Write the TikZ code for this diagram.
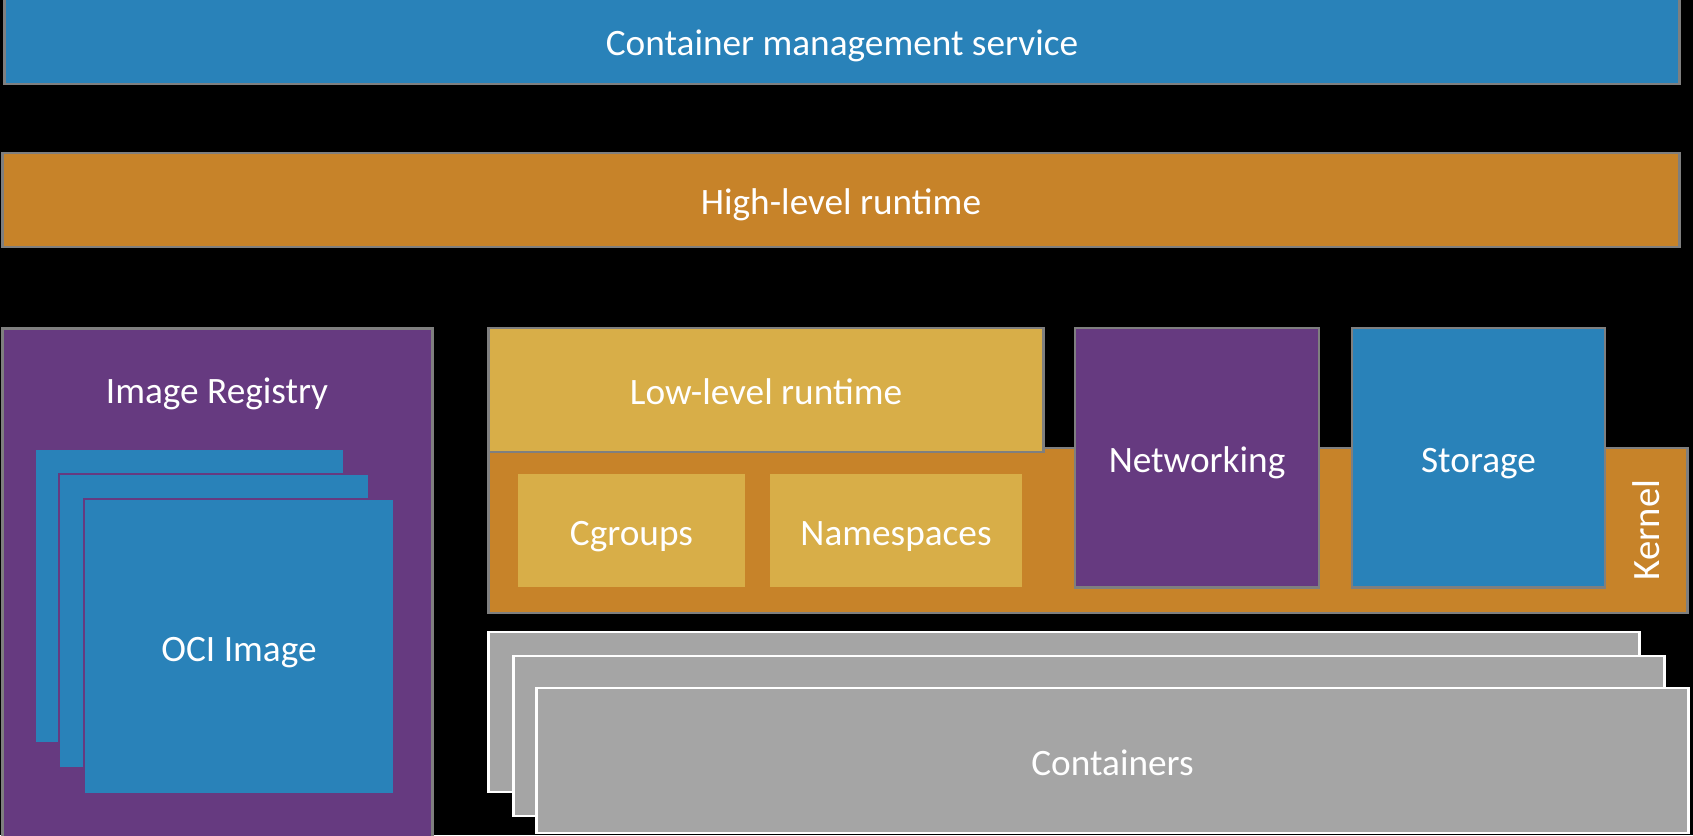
\documentclass[tikz,border=0pt]{standalone}
\usepackage{fontspec}
\setmainfont{Carlito}
\usepackage{tikz}
\usetikzlibrary{positioning}

\definecolor{azul}{RGB}{41,130,185}
\definecolor{naranja}{RGB}{199,131,41}
\definecolor{oro}{RGB}{216,174,72}
\definecolor{morado}{RGB}{102,58,128}
\definecolor{gris}{RGB}{165,165,165}
\definecolor{borde}{RGB}{127,127,127}

\begin{document}
\begin{tikzpicture}[x=0.01cm, y=-0.01cm,
    every node/.style={rectangle, inner sep=0pt, text=white, text height=10.5pt, text depth=2pt, font=\fontsize{10.6}{13}\selectfont},
    capa/.style={draw=borde, line width=0.8pt},
    hoja/.style={draw=morado, line width=0.4pt, fill=azul},
    caja/.style={fill=oro},
    cont/.style={draw=white, line width=0.8pt, fill=gris, minimum width=11.5cm, minimum height=1.6cm}]
              % Fondo
              \fill[black] (0,0) rectangle (1693,835);
              \useasboundingbox (0,0) rectangle (1693,835);

              % Barras
              \node[capa, fill=azul, minimum width=16.74cm, minimum height=0.86cm] (mgmt) at (842,41) {Container management service};
              \node[capa, fill=naranja, minimum width=16.76cm, minimum height=0.94cm] (high) at (841,200) {High-level runtime};

              % Registro
              \node[capa, fill=morado, minimum width=4.29cm, minimum height=5.2cm] (registry) at (217.5,589) {};
              \node (regtitle) at (217,389) {Image Registry};
              \node[hoja, minimum width=3.09cm, minimum height=2.94cm] (oci1) at (189.5,596) {};
              \node[hoja, minimum width=3.1cm, minimum height=2.94cm] (oci2) at (214,621) {};
              \node[hoja, minimum width=3.1cm, minimum height=2.95cm] (oci3) at (239,646.5) {OCI Image};

              % Kernel
              \node[capa, fill=naranja, minimum width=11.98cm, minimum height=1.65cm] (kernel) at (1088,530.5) {};
              \node[rotate=90, text height=7pt, text depth=0pt, font=\fontsize{11}{13}\selectfont] (kerneltxt) at (1647,530) {Kernel};
              \node[capa, fill=oro, minimum width=5.54cm, minimum height=1.24cm] (low) at (766,390) {Low-level runtime};
              \node[caja, minimum width=2.27cm, minimum height=1.13cm] (cgroups) at (631.5,530.5) {Cgroups};
              \node[caja, minimum width=2.52cm, minimum height=1.13cm] (ns) at (896,530.5) {Namespaces};
              \node[capa, fill=morado, minimum width=2.44cm, minimum height=2.59cm] (net) at (1197,457.5) {Networking};
              \node[capa, fill=azul, minimum width=2.53cm, minimum height=2.59cm] (storage) at (1478.5,457.5) {Storage};

              % Contenedores
              \node[cont] (cont1) at (1064,712) {};
              \node[cont] (cont2) at (1089,736) {};
              \node[cont, minimum width=11.51cm, minimum height=1.45cm] (cont3) at (1112.5,760.5) {Containers};
            \end{tikzpicture}
\end{document}
